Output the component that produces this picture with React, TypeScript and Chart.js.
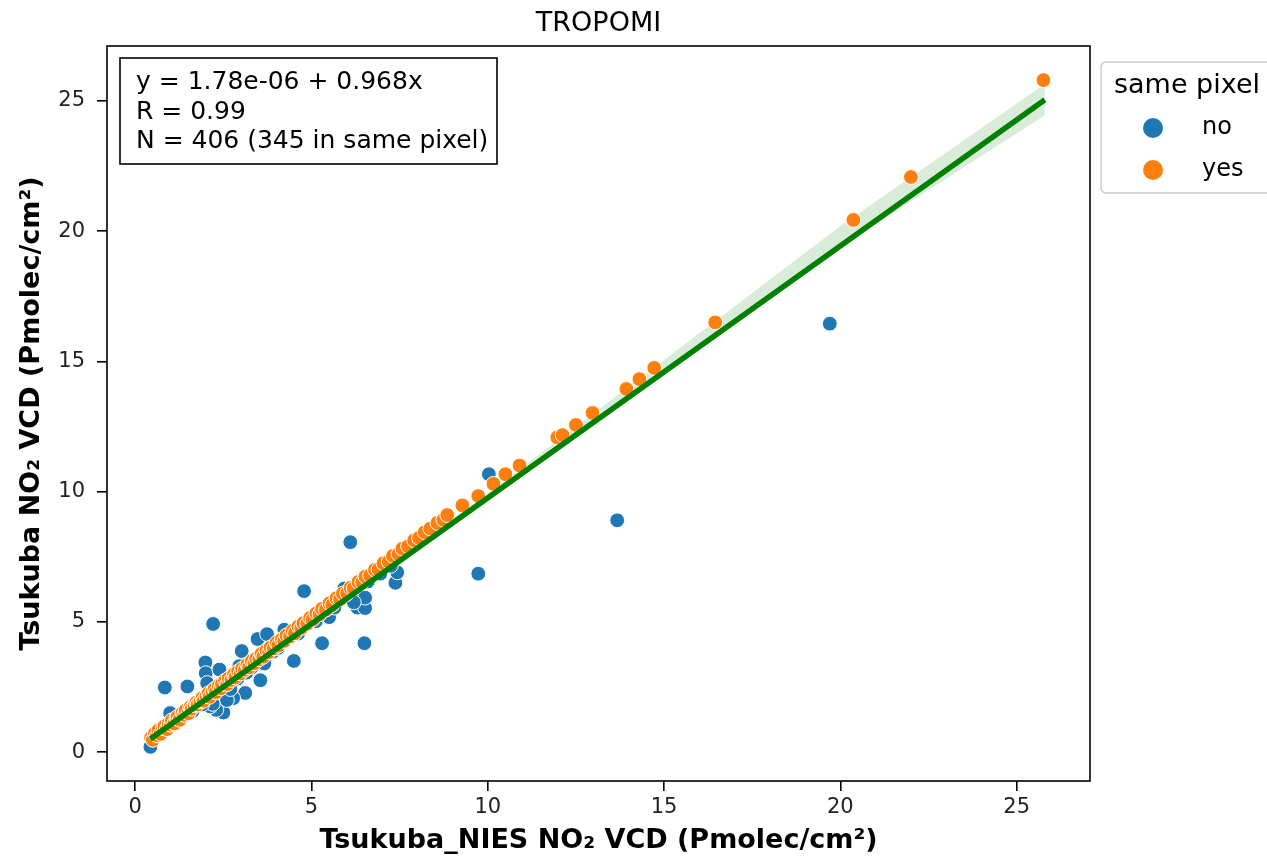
import React, { useEffect, useRef } from "react";
import { Chart, registerables } from "chart.js";

Chart.register(...registerables);

const chartTitle = "TROPOMI";
const xLabel = "Tsukuba_NIES NO₂ VCD (Pmolec/cm²)";
const yLabel = "Tsukuba NO₂ VCD (Pmolec/cm²)";
const statLines = ["y = 1.78e-06 + 0.968x", "R = 0.99", "N = 406 (345 in same pixel)"];
const legendTitle = "same pixel";
const legendLabels = ["no", "yes"];

const xTicks = [0, 5, 10, 15, 20, 25];
const yTicks = [0, 5, 10, 15, 20, 25];
const xRange = [-0.8, 27.08];
const yRange = [-1.11, 27.11];

// same pixel = "no"
const noX = [0.43, 0.84, 1.48, 0.99, 2.21, 1.99, 2.0, 2.39, 2.04, 3.02, 3.47, 3.74, 4.23, 4.5, 3.55, 3.12, 2.78, 2.5, 2.3, 2.13, 1.84, 4.79, 5.5, 5.3, 6.5, 6.1, 5.93, 6.15, 6.3, 6.52, 6.52, 6.2, 7.38, 7.43, 9.73, 13.67, 10.03, 19.7, 3.35, 2.95, 3.66, 2.6, 2.2,
  0.72, 1.22, 1.63, 2.58, 2.9, 3.3, 3.9, 4.05, 4.62, 5.12, 5.65, 5.98, 6.6, 7.25, 1.9, 2.7, 3.15, 6.95];
const noY = [0.2, 2.48, 2.52, 1.5, 4.92, 3.44, 3.03, 3.17, 2.65, 3.88, 4.34, 4.53, 4.7, 3.5, 2.76, 2.27, 2.07, 1.52, 1.62, 1.75, 2.0, 6.18, 5.18, 4.18, 4.18, 8.06, 6.28, 5.95, 5.55, 5.53, 5.93, 5.75, 6.5, 6.9, 6.85, 8.9, 10.67, 16.45, 3.34, 3.3, 3.4, 2.0, 1.85,
  0.74, 1.2, 1.58, 2.55, 2.82, 3.25, 3.85, 4.0, 4.55, 5.02, 5.55, 6.05, 6.55, 7.15, 1.83, 2.42, 3.05, 6.85];

// same pixel = "yes"
const yesX = [0.45, 0.5, 0.56, 0.62, 0.66, 0.72, 0.79, 0.83, 0.9, 0.95, 1.01, 1.04, 1.11, 1.17, 1.2, 1.26, 1.34, 1.39, 1.43, 1.51, 1.56, 1.6, 1.68, 1.73, 1.77, 1.85, 1.91, 1.94, 2.02, 2.08, 2.11, 2.19, 2.25, 2.29, 2.37, 2.43, 2.46, 2.55, 2.61, 2.65, 2.73, 2.8, 2.84, 2.92, 2.99, 3.03, 3.11, 3.18, 3.23, 3.31, 3.38, 3.43, 3.52, 3.58, 3.63, 3.72, 3.8, 3.84, 3.93, 4.01, 4.06, 4.16, 4.23, 4.29, 4.39, 4.47, 4.53, 4.63, 4.71, 4.77, 4.88, 4.96, 5.03, 5.14, 5.23, 5.3, 5.41, 5.51, 5.59, 5.71, 5.81, 5.89, 6.01, 6.11, 6.2, 6.33, 6.44, 6.53, 6.66, 6.8, 6.9, 7.04, 7.19, 7.31, 7.47, 7.58, 7.74, 7.91, 8.05, 8.21, 8.37, 8.57, 8.74, 8.85, 9.28, 9.73, 10.16, 10.5, 10.9, 11.97, 12.12, 12.5, 12.97, 13.93, 14.3, 14.72, 16.45, 20.37, 22.0, 25.76];
const yesY = [0.55, 0.47, 0.72, 0.64, 0.84, 0.7, 0.92, 0.99, 0.88, 1.1, 1.05, 1.22, 1.1, 1.3, 1.35, 1.24, 1.5, 1.43, 1.6, 1.49, 1.72, 1.66, 1.8, 1.9, 1.83, 1.95, 2.08, 1.97, 2.15, 2.26, 2.12, 2.33, 2.42, 2.3, 2.55, 2.45, 2.62, 2.74, 2.61, 2.83, 2.77, 2.98, 2.86, 3.1, 3.02, 3.2, 3.16, 3.36, 3.25, 3.5, 3.41, 3.58, 3.57, 3.77, 3.66, 3.9, 3.84, 4.02, 3.98, 4.2, 4.09, 4.33, 4.27, 4.48, 4.44, 4.66, 4.56, 4.82, 4.77, 4.95, 4.93, 5.15, 5.08, 5.33, 5.29, 5.5, 5.47, 5.71, 5.65, 5.91, 5.87, 6.09, 6.1, 6.31, 6.29, 6.53, 6.52, 6.74, 6.78, 7.0, 7.01, 7.25, 7.31, 7.53, 7.6, 7.81, 7.9, 8.13, 8.22, 8.44, 8.58, 8.8, 8.92, 9.1, 9.47, 9.83, 10.3, 10.67, 11.0, 12.08, 12.17, 12.56, 13.02, 13.94, 14.32, 14.75, 16.5, 20.43, 22.08, 25.8];

// regression line and its confidence band
const fitX = [0.43, 25.8];
const fitY = [0.5, 25.05];
const bandX = [0.43, 5, 10, 15, 20, 25.8];
const bandLo = [0.4, 4.84, 9.7, 14.55, 19.4, 24.45];
const bandHi = [0.6, 5.0, 9.94, 15.05, 20.2, 25.65];

const BLUE = "#1f77b4";
const ORANGE = "#ff7f0e";
const FONT = "'DejaVu Sans', sans-serif";

const pts = (xs: number[], ys: number[]) => xs.map((x, i) => ({ x, y: ys[i] }));

const decor = {
  id: "decor",
  afterDraw(chart: any) {
    const { ctx, chartArea: a } = chart;
    ctx.save();
    ctx.strokeStyle = "#000";
    ctx.lineWidth = 1.6;
    ctx.strokeRect(a.left, a.top, a.right - a.left, a.bottom - a.top);
    ctx.fillStyle = "#000";
    ctx.font = `27px ${FONT}`;
    ctx.textAlign = "center";
    ctx.textBaseline = "alphabetic";
    ctx.fillText(chartTitle, (a.left + a.right) / 2, 31);
    ctx.fillStyle = "#fff";
    ctx.fillRect(120, 58, 377, 106);
    ctx.strokeStyle = "#000";
    ctx.lineWidth = 1.6;
    ctx.strokeRect(120, 58, 377, 106);
    ctx.fillStyle = "#000";
    ctx.font = `25px ${FONT}`;
    ctx.textAlign = "left";
    statLines.forEach((t, i) => ctx.fillText(t, 136, 89 + i * 29.5));
    ctx.beginPath();
    ctx.roundRect(1101, 62, 172, 131, 5);
    ctx.fillStyle = "rgba(255,255,255,0.85)";
    ctx.fill();
    ctx.strokeStyle = "#cccccc";
    ctx.lineWidth = 1.4;
    ctx.stroke();
    ctx.fillStyle = "#000";
    ctx.font = `27px ${FONT}`;
    ctx.textAlign = "center";
    ctx.textBaseline = "middle";
    ctx.fillText(legendTitle, 1187, 86);
    const cols = [BLUE, ORANGE];
    legendLabels.forEach((t, i) => {
      const cy = 128 + i * 42;
      ctx.beginPath();
      ctx.arc(1153, cy, 10, 0, Math.PI * 2);
      ctx.fillStyle = cols[i];
      ctx.fill();
      ctx.fillStyle = "#000";
      ctx.font = `24px ${FONT}`;
      ctx.textAlign = "left";
      ctx.fillText(t, 1202, cy);
    });
    ctx.restore();
  },
};

export default function App() {
  const ref = useRef<HTMLCanvasElement | null>(null);
  useEffect(() => {
    if (!ref.current) return;
    const tickStyle = { color: "#222", font: { family: FONT, size: 21 } };
    const chart = new Chart(ref.current, {
      type: "scatter",
      data: {
        datasets: [
          { label: "band-hi", data: pts(bandX, bandHi), showLine: true, pointRadius: 0, borderWidth: 0, borderColor: "rgba(0,0,0,0)", backgroundColor: "rgba(0,128,0,0.15)", fill: "+1", order: 5 },
          { label: "band-lo", data: pts(bandX, bandLo), showLine: true, pointRadius: 0, borderWidth: 0, borderColor: "rgba(0,0,0,0)", fill: false, order: 5 },
          { label: "no", data: pts(noX, noY), pointRadius: 7.4, pointBorderWidth: 1, pointBorderColor: "#ffffff", pointBackgroundColor: BLUE, order: 3 },
          { label: "yes", data: pts(yesX, yesY), pointRadius: 7.4, pointBorderWidth: 1, pointBorderColor: "#ffffff", pointBackgroundColor: ORANGE, order: 2 },
          { label: "fit", data: pts(fitX, fitY), showLine: true, pointRadius: 0, borderWidth: 5.5, borderColor: "#008000", fill: false, order: 1 },
        ],
      },
      options: {
        animation: false,
        responsive: false,
        devicePixelRatio: 1,
        layout: { padding: { left: 0, right: 177, top: 46, bottom: 0 } },
        plugins: { legend: { display: false }, tooltip: { enabled: false }, title: { display: false } },
        scales: {
          x: {
            type: "linear",
            min: xRange[0],
            max: xRange[1],
            afterBuildTicks: (s: any) => { s.ticks = xTicks.map((v) => ({ value: v })); },
            afterFit: (s: any) => { s.height = 77; },
            grid: { display: true, drawOnChartArea: false, drawTicks: true, tickLength: 10, tickColor: "#000", lineWidth: 1.6 },
            border: { display: false },
            ticks: { ...tickStyle, padding: 4, maxRotation: 0 },
            title: { display: true, text: xLabel, color: "#000", font: { family: FONT, size: 27, weight: "bold" }, padding: { top: 0, bottom: 1 } },
          },
          y: {
            type: "linear",
            min: yRange[0],
            max: yRange[1],
            afterBuildTicks: (s: any) => { s.ticks = yTicks.map((v) => ({ value: v })); },
            afterFit: (s: any) => { s.width = 107; },
            grid: { display: true, drawOnChartArea: false, drawTicks: true, tickLength: 10, tickColor: "#000", lineWidth: 1.6 },
            border: { display: false },
            ticks: { ...tickStyle, padding: 12 },
            title: { display: true, text: yLabel, color: "#000", font: { family: FONT, size: 27, weight: "bold" }, padding: { top: 16, bottom: 0 } },
          },
        },
      },
      plugins: [decor],
    } as any);
    return () => chart.destroy();
  }, []);
  return (
    <div style={{ position: "absolute", left: 0, top: 0, width: 1267, height: 858, background: "#fff" }}>
      <canvas ref={ref} width={1267} height={858} style={{ display: "block" }} />
    </div>
  );
}
